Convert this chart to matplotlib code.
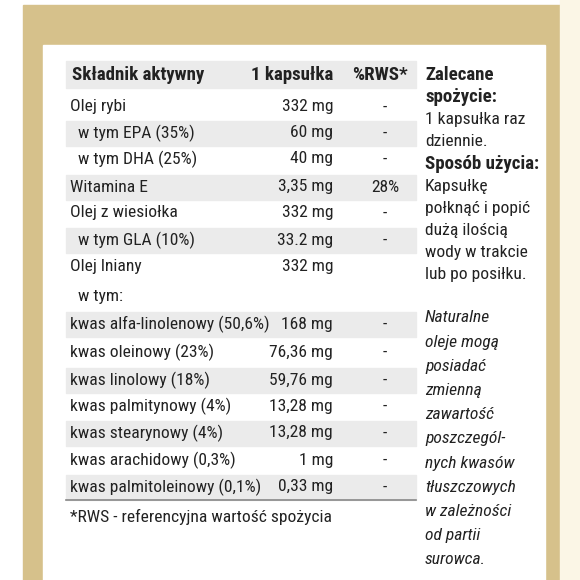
import matplotlib.pyplot as plt
from matplotlib.patches import Rectangle

plt.rcParams['font.family'] = ['Roboto Condensed', 'Roboto', 'DejaVu Sans']

headers = ['Składnik aktywny', '1 kapsułka', '%RWS*']
labels = ['Olej rybi', '  w tym EPA (35%)', '  w tym DHA (25%)', 'Witamina E',
          'Olej z wiesiołka', '  w tym GLA (10%)', 'Olej lniany', '  w tym:',
          'kwas alfa-linolenowy (50,6%)', 'kwas oleinowy (23%)', 'kwas linolowy (18%)',
          'kwas palmitynowy (4%)', 'kwas stearynowy (4%)', 'kwas arachidowy (0,3%)',
          'kwas palmitoleinowy (0,1%)']
amounts = ['332 mg', '60 mg', '40 mg', '3,35 mg', '332 mg', '33.2 mg', '332 mg', '',
           '168 mg', '76,36 mg', '59,76 mg', '13,28 mg', '13,28 mg', '1 mg', '0,33 mg']
rws = ['-', '-', '-', '28%', '-', '-', '', '', '-', '-', '-', '-', '-', '-', '-']
shaded = [False, True, False, True, False, True, False, False,
          True, False, True, False, True, False, True]
row_y = [107, 133, 159, 187, 213, 240, 267, 296, 324, 352, 380, 406, 433, 460, 487]
footnote = '*RWS - referencyjna wartość spożycia'
side_lines = [('Zalecane', 'bold'), ('spożycie:', 'bold'), ('1 kapsułka raz', 'normal'),
              ('dziennie.', 'normal'), ('Sposób użycia:', 'bold'), ('Kapsułkę', 'normal'),
              ('połknąć i popić', 'normal'), ('dużą ilością', 'normal'),
              ('wody w trakcie', 'normal'), ('lub po posiłku.', 'normal')]
side_italic = ['Naturalne', 'oleje mogą', 'posiadać', 'zmienną', 'zawartość',
               'poszczegól-', 'nych kwasów', 'tłuszczowych', 'w zależności',
               'od partii', 'surowca.']

gold = '#d6c18b'
grey = '#ebebeb'
fs = 12.6
kw = dict(fontsize=fs, color='#222222')
hkw = dict(fontsize=13.6, color='#222222', weight='bold')

fig = plt.figure(figsize=(5.8, 5.8), dpi=100)
ax = fig.add_axes([0, 0, 1, 1])
ax.set_xlim(0, 580)
ax.set_ylim(580, 0)
ax.axis('off')

ax.add_patch(Rectangle((23, 5), 537, 575, color=gold))
ax.add_patch(Rectangle((43, 45), 502, 535, color='white'))
ax.add_patch(Rectangle((560, 0), 20, 580, color='#fbf6e6'))

# header
ax.add_patch(Rectangle((66, 61), 350, 27, color=grey))
ax.text(72, 75, headers[0], va='center', **hkw)
ax.text(333, 75, headers[1], va='center', ha='right', **hkw)
ax.text(380, 75, headers[2], va='center', ha='center', **hkw)

for lab, am, r, sh, y in zip(labels, amounts, rws, shaded, row_y):
    if sh:
        ax.add_patch(Rectangle((66, y - 12.5), 350, 25, color=grey))
    ax.text(70, y, lab, va='center', **kw)
    ax.text(333, y, am, va='center', ha='right', **kw)
    ax.text(385, y, r, va='center', ha='center', **kw)
ax.plot([66, 416], [500, 500], color='#888888', lw=1.2)
ax.text(70, 517, footnote, va='center', **kw)

for i, (t, w) in enumerate(side_lines):
    style = hkw if w == 'bold' else kw
    ax.text(425, 75 + 22.2 * i, t, va='center', **style)
for i, t in enumerate(side_italic):
    ax.text(425, 318 + 24.2 * i, t, style='italic', va='center', **kw)

fig.savefig('out.png', dpi=100)
